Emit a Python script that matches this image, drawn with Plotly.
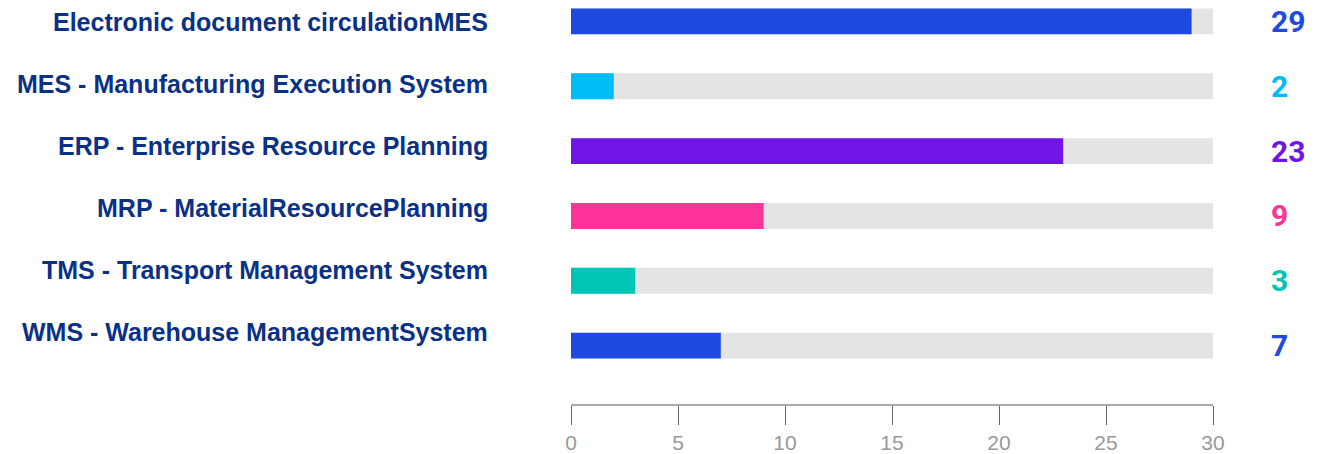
import plotly.graph_objects as go

categories = [
    "Electronic document circulationMES",
    "MES - Manufacturing Execution System",
    "ERP - Enterprise Resource Planning",
    "MRP - MaterialResourcePlanning",
    "TMS - Transport Management System",
    "WMS - Warehouse ManagementSystem",
]
values = [29, 2, 23, 9, 3, 7]
colors = ["#1f4ae0", "#00bbf5", "#7014e8", "#ff3399", "#00c4b4", "#1f4ae0"]
track_max = 30
tick_vals = [0, 5, 10, 15, 20, 25, 30]

W, H = 1317, 454
ML, MR, MT, MB = 571, 104, 0, 48
plot_w = W - ML - MR
plot_h = H - MT - MB

idx = list(range(len(categories)))

fig = go.Figure()
# grey track behind each bar
fig.add_trace(go.Bar(
    x=[track_max] * len(idx), y=idx, orientation="h",
    marker=dict(color="#e4e4e4", line=dict(width=0)),
    width=0.4, hoverinfo="skip", showlegend=False,
))
# coloured value bars
fig.add_trace(go.Bar(
    x=values, y=idx, orientation="h",
    marker=dict(color=colors, line=dict(width=0)),
    width=0.4, customdata=categories,
    hovertemplate="%{customdata}: %{x}<extra></extra>", showlegend=False,
))

# category labels on the left
for i, name in enumerate(categories):
    ypx = 22 + i * 62.4
    fig.add_annotation(
        x=(490 - ML) / plot_w, xref="paper",
        y=1 - (ypx - MT) / plot_h, yref="paper",
        text=name, showarrow=False, xanchor="right", yanchor="middle",
        font=dict(family="Liberation Sans, Arial, sans-serif",
                  size=25, color="#0a3185", weight="bold"),
    )

# value labels on the right
for i, (v, c) in enumerate(zip(values, colors)):
    fig.add_annotation(
        x=(1269 - ML) / plot_w, xref="paper",
        y=i, yref="y",
        text=str(v), showarrow=False, xanchor="left", yanchor="middle",
        font=dict(family="Roboto, Arial, sans-serif", size=30, color=c, weight="bold"),
    )

fig.update_layout(
    width=W, height=H,
    margin=dict(l=ML, r=MR, t=MT, b=MB),
    barmode="overlay",
    paper_bgcolor="white", plot_bgcolor="white",
    xaxis=dict(
        range=[0, track_max], tickvals=tick_vals,
        showline=True, linecolor="#aaaaaa", linewidth=2,
        ticks="outside", ticklen=19, tickcolor="#666666", tickwidth=1,
        showgrid=False, zeroline=False,
        tickfont=dict(family="Liberation Sans, Arial, sans-serif",
                      size=21, color="#999999"),
    ),
    yaxis=dict(
        range=[5.9, -0.33], showticklabels=False, showgrid=False,
        zeroline=False, showline=False,
    ),
)

fig.write_html("out.html")
